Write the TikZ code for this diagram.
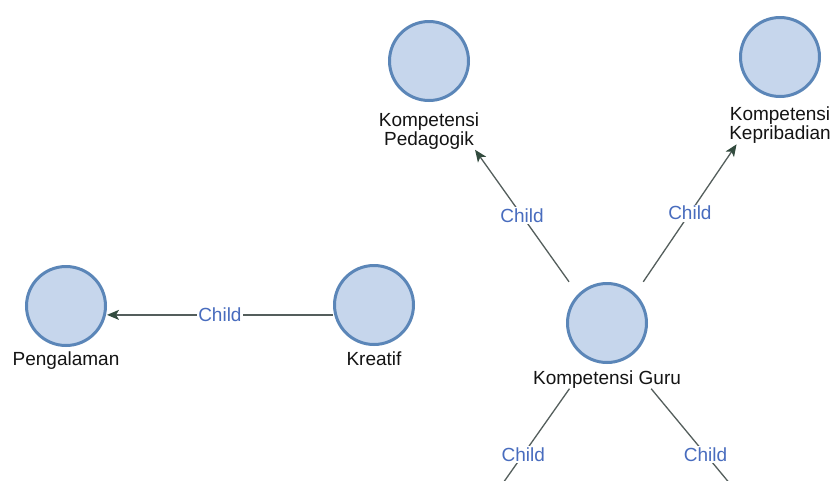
\documentclass[tikz,border=0pt]{standalone}
\usepackage{fontspec}
\setmainfont{Liberation Sans}
\usetikzlibrary{fit,arrows.meta}
\definecolor{nodefill}{RGB}{198,214,236}
\definecolor{nodeline}{RGB}{91,134,184}
\definecolor{edgecol}{RGB}{84,94,92}
\definecolor{arrowcol}{RGB}{50,75,62}
\definecolor{childcol}{RGB}{72,108,190}
\definecolor{labcol}{RGB}{20,20,20}
\begin{document}
\begin{tikzpicture}[x=1pt,y=-1pt,
  entity/.style={circle, minimum size=79pt, inner sep=0pt, fill=nodefill, draw=nodeline, line width=3pt},
  entlabel/.style={anchor=north, inner sep=0pt, align=center, text=labcol, font=\fontsize{19}{19}\selectfont},
  grp/.style={inner sep=0pt, rectangle},
  edge/.style={draw=edgecol, line width=1.3pt, -{Stealth[length=12pt,width=10pt,inset=3pt,color=arrowcol]}},
  plainedge/.style={draw=edgecol, line width=1.3pt},
  rel/.style={fill=white, inner sep=1.5pt, text=childcol, font=\fontsize{19}{19}\selectfont}
]
\fill[white] (0,0) rectangle (833,480);
\useasboundingbox (0,0) rectangle (833,480);

% entities
\node[entity] (pedC) at (429,61) {};
\node[entlabel] (pedL) at (429,112.5) {Kompetensi\\Pedagogik};
\node[grp, fit=(pedC)(pedL)] (ped) {};

\node[entity] (kepC) at (780,57) {};
\node[entlabel] (kepL) at (780,107) {Kompetensi\\Kepribadian};
\node[grp, fit=(kepC)(kepL)] (kep) {};

\node[entity] (penC) at (66,306) {};
\node[entlabel] (penL) at (66,351.4) {Pengalaman};
\node[grp, fit=(penC)(penL)] (pen) {};

\node[entity] (kreC) at (374,305) {};
\node[entlabel] (kreL) at (374,351.4) {Kreatif};
\node[grp, fit=(kreC)(kreL)] (kre) {};

\node[entity] (guruC) at (607,323) {};
\node[entlabel] (guruL) at (607,370.4) {Kompetensi Guru};
\node[grp, fit=(guruC)(guruL)] (guru) {};

% off-picture ends
\coordinate (gl) at (477,520);
\coordinate (gr) at (760,520);

% connectors
\draw[edge] (guru) -- node[rel]{Child} (ped);
\draw[edge] (guru) -- node[rel]{Child} (kep);
\draw[edge] (kre) -- node[rel]{Child} (kre -| penC.east);
\draw[plainedge] (guru) -- node[rel]{Child} (gl);
\draw[plainedge] (guru) -- node[rel]{Child} (gr);
\end{tikzpicture}
\end{document}
